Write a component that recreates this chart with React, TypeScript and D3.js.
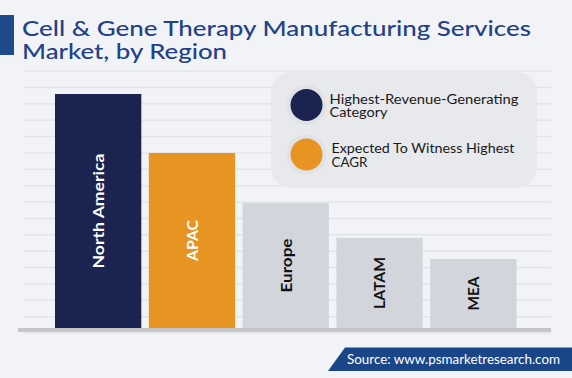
import React, { useEffect } from "react";
import * as d3 from "d3";

const regions = ["North America", "APAC", "Europe", "LATAM", "MEA"];
const shares = [100, 74.8, 53.4, 38.5, 29.5];
const barColors = ["#1b2350", "#e89422", "#d2d5dc", "#d2d5dc", "#d2d5dc"];
const labelColors = ["#ffffff", "#ffffff", "#111111", "#111111", "#111111"];
const labelLengths = [115, 41, 54, 52, 34];
const titleLines = ["Cell & Gene Therapy Manufacturing Services", "Market, by Region"];
const titleLengths = [509, 205];
const legendItems = [
  { color: "#1b2350", lines: ["Highest-Revenue-Generating", "Category"], lens: [189, 58] },
  { color: "#e89422", lines: ["Expected To Witness Highest", "CAGR"], lens: [183, 36] },
];
const gridCount = 17;
const sourceText = "Source: www.psmarketresearch.com";

const W = 572;
const H = 378;
const FONT = "Lato, 'Noto Sans', sans-serif";

export default function App() {
  useEffect(() => {
    document.body.style.margin = "0";
  }, []);

  const x = d3.scaleBand<string>().domain(regions).range([55, 516.5]).paddingInner(0.08).paddingOuter(0);
  const y = d3.scaleLinear().domain([0, 100]).range([328, 94]);
  const gy = d3.scaleLinear().domain([0, gridCount - 1]).range([71, 333]);
  const grid = d3.range(gridCount);

  return (
    <svg width={W} height={H} style={{ display: "block", background: "#f2f3f7" }} fontFamily={FONT}>
      <rect x={0} y={0} width={W} height={H} fill="#f2f3f7" />
      {grid.map((g) => (
        <line key={g} x1={24} x2={551} y1={gy(g)} y2={gy(g)} stroke="#e3e4e9" strokeWidth={1.5} />
      ))}
      {/* title */}
      <rect x={0} y={15} width={14} height={40} fill="#1e4a8c" />
      {titleLines.map((t, i) => (
        <text key={t} x={22} y={35.5 + i * 23.5} fontSize={21} fontWeight={500} fill="#1f4288" textLength={titleLengths[i]} lengthAdjust="spacingAndGlyphs">
          {t}
        </text>
      ))}
      {/* legend */}
      <rect x={271} y={72} width={266} height={116} rx={20} ry={20} fill="#e8e9ed" />
      {legendItems.map((it, i) => {
        const cy = 105 + i * 49.5;
        return (
          <g key={i}>
            <circle cx={306.5} cy={cy} r={20} fill="#e1e2e6" />
            <circle cx={306.5} cy={cy} r={16} fill={it.color} />
            {it.lines.map((l, j) => (
              <text key={l} x={329.5 + i * 2} y={cy - 1.5 + j * 13.5} fontSize={12.5} fill="#1a1a1a" textLength={it.lens[j]} lengthAdjust="spacingAndGlyphs">
                {l}
              </text>
            ))}
          </g>
        );
      })}
      {/* bars */}
      {regions.map((r, i) => {
        const bx = x(r)!;
        const bw = x.bandwidth();
        const top = y(shares[i]);
        const cx = bx + bw / 2;
        const cy = (top + y(0)) / 2;
        return (
          <g key={r}>
            <rect x={bx} y={top} width={bw} height={y(0) - top} fill={barColors[i]} />
            <text
              transform={`translate(${cx},${cy}) rotate(-90)`}
              textAnchor="middle"
              dy="0.36em"
              fontSize={16}
              fontWeight={700}
              fill={labelColors[i]}
              textLength={labelLengths[i]}
              lengthAdjust="spacingAndGlyphs"
            >
              {r}
            </text>
          </g>
        );
      })}
      {/* axis */}
      <rect x={18} y={328} width={533} height={4} fill="#c5c5ca" />
      {/* source banner */}
      <path d="M345,347.5 L572,347.5 L572,371 L328,371 Z" fill="#1b4589" />
      <text x={347} y={363.5} fontSize={13} fill="#ffffff" textLength={213} lengthAdjust="spacingAndGlyphs">
        {sourceText}
      </text>
    </svg>
  );
}
